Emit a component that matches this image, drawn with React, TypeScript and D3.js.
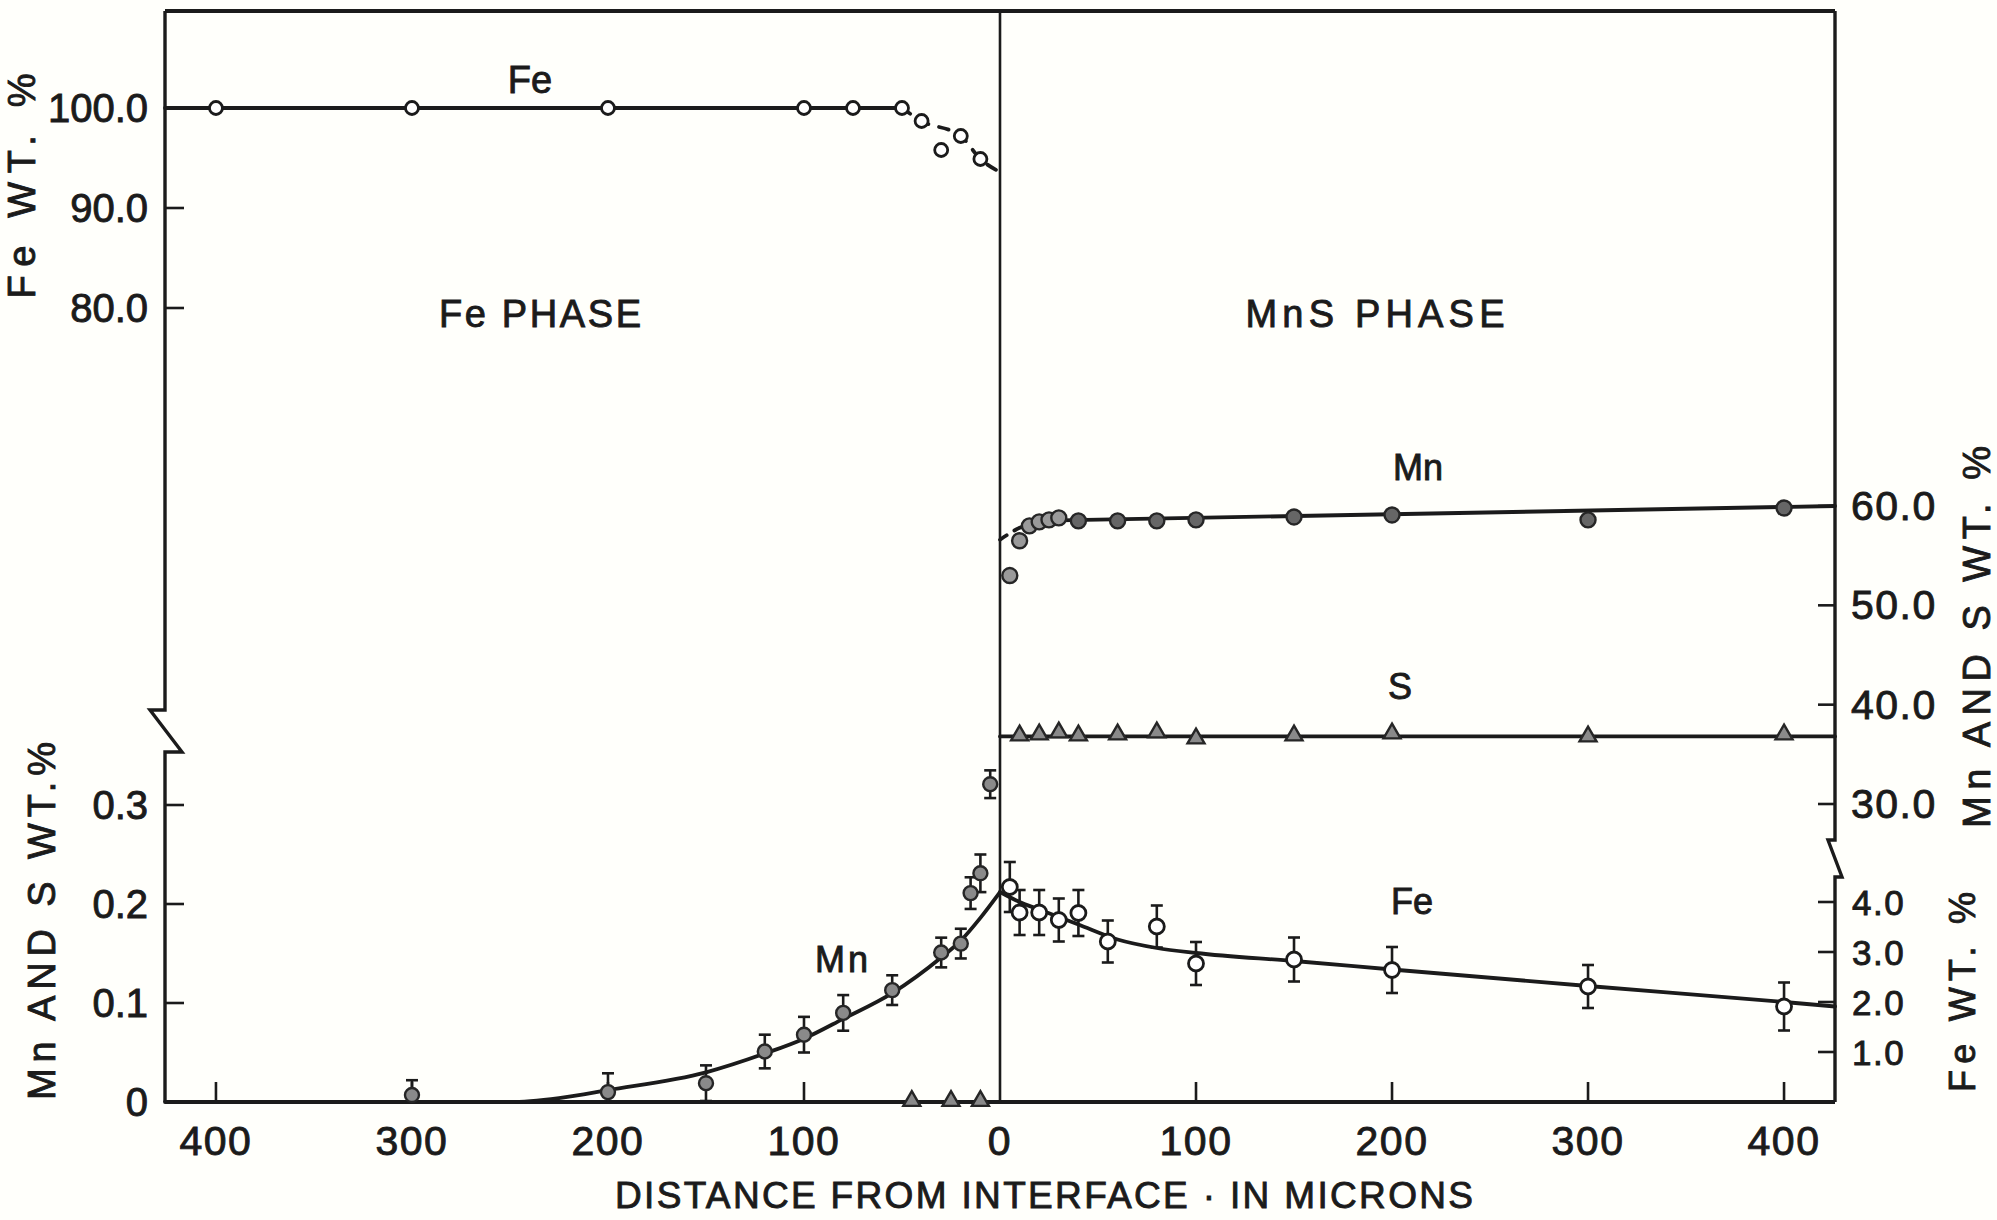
import React from 'react';
import * as d3 from 'd3';

const W = 1997;
const H = 1220;

// distance from interface in microns, negative = Fe phase side (left half)
const xTicks = [-400, -300, -200, -100, 0, 100, 200, 300, 400];
const feTopTicks = [100, 90, 80];
const lowLeftTicks = [0, 0.1, 0.2, 0.3];
const upperRightTicks = [60, 50, 40, 30];
const lowRightTicks = [4, 3, 2, 1];

// Fe in Fe phase (Fe WT.%)
const feTopX = [-400, -300, -200, -100, -75, -50, -40, -30, -20, -10];
const feTopY = [100, 100, 100, 100, 100, 100, 98.7, 95.8, 97.2, 94.9];
const feTopSolidX = [-426, -50];
const feTopSolidY = [100, 100];
const feTopDashX = [-50, -40, -20, -10, 0];
const feTopDashY = [100, 98.7, 97.2, 94.9, 93.6];

// Mn in Fe phase (Mn AND S WT.%)
const mnFeX = [-300, -200, -150, -120, -100, -80, -55, -30, -20, -15, -10, -5];
const mnFeY = [0.007, 0.01, 0.019, 0.051, 0.068, 0.09, 0.113, 0.151, 0.16, 0.211, 0.231, 0.321];
const mnFeErr = [0.015, 0.019, 0.018, 0.017, 0.018, 0.018, 0.015, 0.015, 0.015, 0.016, 0.019, 0.014];
const mnFeFitX = [-426, -250, -225, -200, -150, -120, -100, -80, -55, -30, -20, -10, 0];
const mnFeFitY = [0, 0, 0.004, 0.012, 0.03, 0.049, 0.064, 0.084, 0.11, 0.146, 0.163, 0.186, 0.212];

// S in Fe phase
const sFeX = [-45, -25, -10];
const sFeY = [0, 0, 0];

// Mn in MnS phase (Mn AND S WT.%)
const mnMnsX = [5, 10, 15, 20, 25, 30, 40, 60, 80, 100, 150, 200, 300, 400];
const mnMnsY = [53.0, 56.5, 58.0, 58.4, 58.6, 58.8, 58.5, 58.5, 58.5, 58.6, 58.9, 59.1, 58.6, 59.8];
const mnMnsDashX = [0, 10, 20, 30];
const mnMnsDashY = [56.6, 57.8, 58.4, 58.55];
const mnMnsSolidX = [30, 426];
const mnMnsSolidY = [58.55, 60.0];

// S in MnS phase
const sMnsX = [10, 20, 30, 40, 60, 80, 100, 150, 200, 300, 400];
const sMnsY = [36.9, 37.0, 37.2, 36.9, 37.0, 37.2, 36.6, 36.9, 37.1, 36.8, 37.0];
const sMnsLineX = [0, 426];
const sMnsLineY = [36.8, 36.8];

// Fe in MnS phase (Fe WT.%)
const feMnsX = [5, 10, 20, 30, 40, 55, 80, 100, 150, 200, 300, 400];
const feMnsY = [4.3, 3.79, 3.79, 3.64, 3.78, 3.21, 3.51, 2.77, 2.85, 2.64, 2.31, 1.91];
const feMnsErr = [0.5, 0.45, 0.45, 0.43, 0.46, 0.42, 0.42, 0.43, 0.44, 0.46, 0.43, 0.48];
const feMnsFitX = [0, 10, 20, 30, 40, 60, 80, 100, 150, 200, 300, 400, 426];
const feMnsFitY = [4.2, 4.0, 3.85, 3.7, 3.55, 3.25, 3.08, 2.98, 2.82, 2.65, 2.32, 2.0, 1.91];

const INK = '#1b1b1b';
const FONT = '"Liberation Sans", Arial, sans-serif';

export default function App() {
  const x = d3.scaleLinear().domain([-426, 426]).range([165, 1835]);
  const yFe = d3.scaleLinear().domain([80, 100]).range([308, 108]);
  const yLow = d3.scaleLinear().domain([0, 0.3]).range([1102, 805]);
  const yMnS = d3.scaleLinear().domain([30, 60]).range([804, 506]);
  const yFeLow = d3.scaleLinear().domain([0, 4]).range([1102, 902]);

  const [left, right] = x.range();
  const top = 11;
  const bottom = yLow(0);

  const pts = (xs: number[], ys: number[]) => xs.map((v, i) => [v, ys[i]] as [number, number]);
  const lineOf = (ys: d3.ScaleLinear<number, number>, curve: d3.CurveFactory = d3.curveLinear) =>
    d3.line<[number, number]>().x(d => x(d[0])).y(d => ys(d[1])).curve(curve);

  const tri = d3.symbol().type(d3.symbolTriangle).size(125)() as string;

  const errBars = (xs: number[], ys: number[], es: number[], sc: d3.ScaleLinear<number, number>, key: string) =>
    xs.map((v, i) => {
      const cx = x(v);
      const y1 = sc(ys[i] + es[i]);
      const y2 = Math.min(sc(ys[i] - es[i]), bottom);
      return (
        <g key={key + i} stroke={INK} strokeWidth={2.6}>
          <line x1={cx} x2={cx} y1={y1} y2={y2} />
          <line x1={cx - 6} x2={cx + 6} y1={y1} y2={y1} />
          {y2 < bottom && <line x1={cx - 6} x2={cx + 6} y1={y2} y2={y2} />}
        </g>
      );
    });

  const rot = (cx: number, cy: number, len: number, text: string, size: number) => (
    <text
      transform={`translate(${cx},${cy}) rotate(-90)`}
      textAnchor="middle"
      dominantBaseline="central"
      fontSize={size}
      textLength={len}
      lengthAdjust="spacing"
    >
      {text}
    </text>
  );

  return (
    <svg
      width={W}
      height={H}
      style={{ position: 'absolute', left: 0, top: 0, background: '#fffffb' }}
      fontFamily={FONT}
      fill={INK}
    >
      {/* frame */}
      <g fill="none" stroke={INK} strokeWidth={3.4} strokeLinejoin="miter">
        <path d={`M${left},${top}H${right}`} strokeWidth={4} />
        <path d={`M${left},${top}V710H150L182,752H${left}V${bottom}`} />
        <path d={`M${right},${top}V840H1828L1842,877H${right}V${bottom}`} />
        <path d={`M${left},${bottom}H${right}`} strokeWidth={4} />
      </g>
      <line x1={x(0)} x2={x(0)} y1={top} y2={bottom} stroke={INK} strokeWidth={2.6} />

      {/* ticks */}
      <g stroke={INK} strokeWidth={2.6}>
        {xTicks.filter(t => t !== 0).map(t => (
          <line key={'xt' + t} x1={x(t)} x2={x(t)} y1={bottom} y2={bottom - 20} />
        ))}
        {feTopTicks.map(t => (
          <line key={'ft' + t} x1={left} x2={left + 19} y1={yFe(t)} y2={yFe(t)} />
        ))}
        {lowLeftTicks.filter(t => t > 0).map(t => (
          <line key={'lt' + t} x1={left} x2={left + 19} y1={yLow(t)} y2={yLow(t)} />
        ))}
        {upperRightTicks.map(t => (
          <line key={'ut' + t} x1={right} x2={right - 17} y1={yMnS(t)} y2={yMnS(t)} />
        ))}
        {lowRightTicks.map(t => (
          <line key={'rt' + t} x1={right} x2={right - 17} y1={yFeLow(t)} y2={yFeLow(t)} />
        ))}
      </g>

      <g stroke={INK} strokeWidth={0.9}>
        {/* tick labels */}
        <g fontSize={41} letterSpacing={1.5}>
          {xTicks.map(t => (
            <text key={'xl' + t} x={x(t)} y={1155} textAnchor="middle">{Math.abs(t)}</text>
          ))}
          {upperRightTicks.map(t => (
            <text key={'ul' + t} x={1851} y={yMnS(t)} dominantBaseline="central">{t.toFixed(1)}</text>
          ))}
        </g>
        <g fontSize={40}>
          {feTopTicks.map(t => (
            <text key={'fl' + t} x={148} y={yFe(t)} textAnchor="end" dominantBaseline="central">{t.toFixed(1)}</text>
          ))}
          {lowLeftTicks.map(t => (
            <text key={'ll' + t} x={148} y={yLow(t)} textAnchor="end" dominantBaseline="central">{t === 0 ? '0' : t.toFixed(1)}</text>
          ))}
        </g>
        <g fontSize={35} letterSpacing={1.5}>
          {lowRightTicks.map(t => (
            <text key={'rl' + t} x={1852} y={yFeLow(t)} dominantBaseline="central">{t.toFixed(1)}</text>
          ))}
        </g>

        {/* axis titles */}
        {rot(22, 186, 225, 'Fe WT. %', 38)}
        {rot(42, 921, 358, 'Mn AND S WT.%', 38)}
        {rot(1977, 637, 382, 'Mn AND S WT. %', 38)}
        {rot(1962, 992, 200, 'Fe WT. %', 36)}
        <text x={1044} y={1208} textAnchor="middle" fontSize={37} textLength={858} lengthAdjust="spacing">
          DISTANCE  FROM  INTERFACE · IN  MICRONS
        </text>

        {/* in-plot labels */}
        <g fontSize={38}>
          <text x={530} y={93} textAnchor="middle">Fe</text>
          <text x={540} y={327} textAnchor="middle" textLength={202} lengthAdjust="spacing">Fe PHASE</text>
          <text x={1375} y={327} textAnchor="middle" textLength={259} lengthAdjust="spacing">MnS  PHASE</text>
          <text x={1418} y={480} textAnchor="middle" fontSize={36}>Mn</text>
          <text x={1400} y={699} textAnchor="middle" fontSize={36}>S</text>
          <text x={1412} y={914} textAnchor="middle" fontSize={36}>Fe</text>
          <text x={843} y={972} textAnchor="middle" fontSize={36} letterSpacing={3}>Mn</text>
        </g>
      </g>

      {/* curves */}
      <g fill="none" stroke={INK} strokeWidth={3.8} strokeLinecap="round">
        <path d={lineOf(yFe)(pts(feTopSolidX, feTopSolidY)) || ''} />
        <path d={lineOf(yFe, d3.curveMonotoneX)(pts(feTopDashX, feTopDashY)) || ''} strokeDasharray="10 11" />
        <path d={lineOf(yLow, d3.curveMonotoneX)(pts(mnFeFitX, mnFeFitY)) || ''} />
        <path d={lineOf(yMnS, d3.curveMonotoneX)(pts(mnMnsDashX, mnMnsDashY)) || ''} strokeDasharray="8 9" />
        <path d={lineOf(yMnS)(pts(mnMnsSolidX, mnMnsSolidY)) || ''} />
        <path d={lineOf(yMnS)(pts(sMnsLineX, sMnsLineY)) || ''} />
        <path d={lineOf(yFeLow, d3.curveMonotoneX)(pts(feMnsFitX, feMnsFitY)) || ''} />
      </g>

      {/* error bars */}
      {errBars(mnFeX, mnFeY, mnFeErr, yLow, 'em')}
      {errBars(feMnsX, feMnsY, feMnsErr, yFeLow, 'ef')}

      {/* markers */}
      <g stroke={INK} strokeWidth={2.8} fill="#ffffff">
        {feTopX.map((v, i) => (
          <circle key={'fc' + i} cx={x(v)} cy={yFe(feTopY[i])} r={6.5} />
        ))}
        {feMnsX.map((v, i) => (
          <circle key={'fm' + i} cx={x(v)} cy={yFeLow(feMnsY[i])} r={7.5} />
        ))}
      </g>
      <g stroke="#262626" strokeWidth={2.4} fill="#8a8a8a">
        {mnFeX.map((v, i) => (
          <circle key={'mc' + i} cx={x(v)} cy={yLow(mnFeY[i])} r={7} />
        ))}
        {mnMnsX.map((v, i) => (
          <circle key={'mm' + i} cx={x(v)} cy={yMnS(mnMnsY[i])} r={7.5} fill={i < 6 ? '#9a9a9a' : '#666666'} />
        ))}
        {sFeX.map((v, i) => (
          <path key={'sf' + i} d={tri} transform={`translate(${x(v)},${yLow(sFeY[i]) - 1})`} />
        ))}
        {sMnsX.map((v, i) => (
          <path key={'sm' + i} d={tri} transform={`translate(${x(v)},${yMnS(sMnsY[i])})`} />
        ))}
      </g>
    </svg>
  );
}
